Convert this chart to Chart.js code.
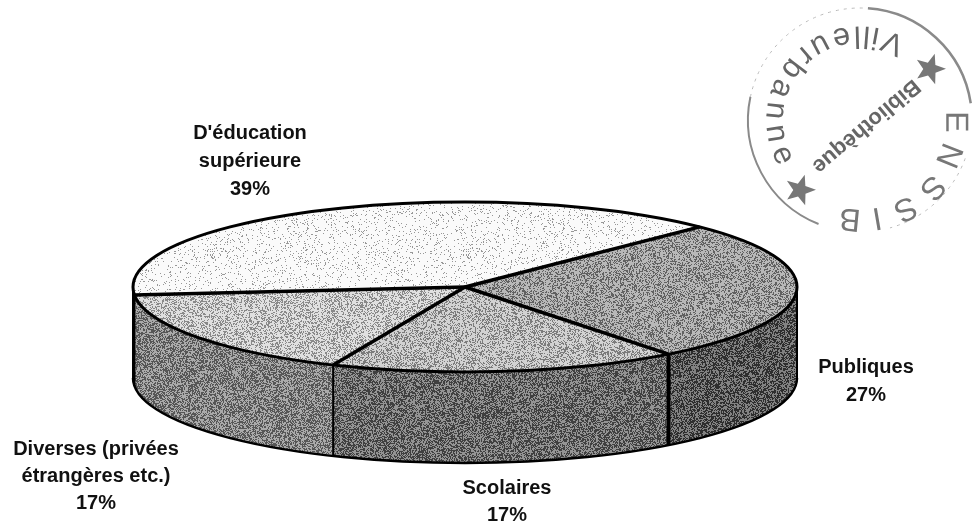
<!DOCTYPE html>
<html>
<head>
<meta charset="utf-8">
<style>
  html, body { margin: 0; padding: 0; background: #fff; }
  #wrap { width: 974px; height: 522px; }
</style>
<script src="https://cdn.jsdelivr.net/npm/chart.js@4/dist/chart.umd.min.js"></script>
</head>
<body>
<div id="wrap"><canvas id="pie" width="974" height="522"></canvas></div>
<script>
const categories = ['Publiques', 'Scolaires', 'Diverses (privées étrangères etc.)', "D'éducation supérieure"];
const shares = [27, 17, 17, 39];
const topGrays = [152, 178, 192, 242];
const wallGrays = [88, 106, 128, 128];
const labelLines = [
  ['Publiques', '27%'],
  ['Scolaires', '17%'],
  ['Diverses (privées', 'étrangères etc.)', '17%'],
  ["D'éducation", 'supérieure', '39%'],
];

// where the pie sits on the page
const CX = 465, CY = 287, RX = 332, RY = 85, DEPTH = 91;
const labelBox = [[866, 367, 28], [507, 488, 27], [96, 449, 27], [250, 133, 28]];

// deterministic two level speckle so the fills look like the scanned halftone
function grain(gray, up, down) {
  const size = 256;
  const c = document.createElement('canvas');
  c.width = c.height = size;
  const g = c.getContext('2d');
  const img = g.createImageData(size, size);
  const hi = Math.min(250, gray + up), lo = Math.max(0, gray - down);
  const pDark = (hi - gray) / (hi - lo);
  let s = 1234567 + gray * 97;
  for (let i = 0; i < size * size; i++) {
    s = (Math.imul(s, 1664525) + 1013904223) >>> 0;
    const n = (s >>> 8) / 16777216;
    const v = n < pDark ? lo : hi;
    img.data[i * 4] = img.data[i * 4 + 1] = img.data[i * 4 + 2] = v;
    img.data[i * 4 + 3] = 255;
  }
  g.putImageData(img, 0, 0);
  return c;
}

function patternFor(ctx, gray, up, down) {
  return ctx.createPattern(grain(gray, up, down), 'repeat');
}

const ctx = document.getElementById('pie').getContext('2d');
const topFills = topGrays.map(g => patternFor(ctx, g, 32, g > 230 ? 90 : 55));
const wallFills = wallGrays.map(g => patternFor(ctx, g, 42, 42));

function edge(a) {
  return [CX + RX * Math.cos(a), CY + RY * Math.sin(a)];
}

const extrudePie = {
  id: 'extrudePie',
  beforeDatasetsDraw(chart) {
    const c = chart.ctx;
    const arcs = chart.getDatasetMeta(0).data;
    c.imageSmoothingEnabled = false;
    // side wall of each slice, only the front half shows
    arcs.forEach((arc, i) => {
      const a = Math.max(arc.startAngle, 0), b = Math.min(arc.endAngle, Math.PI);
      if (b <= a) return;
      c.beginPath();
      c.ellipse(CX, CY, RX, RY, 0, a, b);
      c.ellipse(CX, CY + DEPTH, RX, RY, 0, b, a, true);
      c.closePath();
      c.fillStyle = wallFills[i];
      c.fill();
    });
    c.strokeStyle = '#000';
    c.lineWidth = 2.5;
    c.beginPath();
    c.ellipse(CX, CY + DEPTH, RX, RY, 0, 0, Math.PI);
    c.stroke();
    c.lineWidth = 2;
    [0, Math.PI].forEach(a => {
      const p = edge(a);
      c.beginPath();
      c.moveTo(p[0], p[1]);
      c.lineTo(p[0], p[1] + DEPTH);
      c.stroke();
    });
    arcs.forEach((arc, i) => {
      const a = arc.endAngle;
      if (a <= 0 || a >= Math.PI) return;
      const p = edge(a);
      c.lineWidth = i === 0 ? 4 : 2;
      c.beginPath();
      c.moveTo(p[0], p[1]);
      c.lineTo(p[0], p[1] + DEPTH);
      c.stroke();
    });
    // squash the round pie of the library into the top ellipse
    const first = arcs[0];
    const r = first.outerRadius;
    const sx = RX / r, sy = RY / r;
    topFills.forEach(p => p.setTransform(new DOMMatrix().scale(1 / sx, 1 / sy)));
    c.save();
    c.translate(CX, CY);
    c.scale(sx, sy);
    c.translate(-first.x, -first.y);
  },
  afterDatasetsDraw(chart) {
    const c = chart.ctx;
    c.restore();
    const arcs = chart.getDatasetMeta(0).data;
    c.strokeStyle = '#000';
    c.lineWidth = 3;
    c.beginPath();
    c.ellipse(CX, CY, RX, RY, 0, 0, Math.PI * 2);
    c.stroke();
    c.lineWidth = 3.5;
    arcs.forEach(arc => {
      const p = edge(arc.endAngle);
      c.beginPath();
      c.moveTo(CX, CY);
      c.lineTo(p[0], p[1]);
      c.stroke();
    });
  },
  afterDraw(chart) {
    const c = chart.ctx;
    c.save();
    c.fillStyle = '#111';
    c.font = 'bold 20px "Liberation Sans", Arial, sans-serif';
    c.textAlign = 'center';
    c.textBaseline = 'middle';
    labelLines.forEach((lines, i) => {
      const [x, y, lead] = labelBox[i];
      lines.forEach((t, j) => c.fillText(t, x, y + j * lead));
    });
    c.restore();
    drawStamp(c);
  },
};

// library stamp in the corner, scanned with the page
function drawStar(c, x, y, r) {
  c.beginPath();
  for (let i = 0; i < 10; i++) {
    const a = -Math.PI / 2 + 0.3 + i * Math.PI / 5;
    const d = i % 2 ? r * 0.42 : r;
    c.lineTo(x + d * Math.cos(a), y + d * Math.sin(a));
  }
  c.closePath();
  c.fillStyle = '#777';
  c.fill();
}

function letter(c, ch, x, y, rot, font) {
  c.save();
  c.translate(x, y);
  c.rotate(rot);
  c.font = font;
  c.fillText(ch, 0, 0);
  c.restore();
}

function drawStamp(c) {
  c.save();
  c.strokeStyle = '#8a8a8a';
  c.fillStyle = '#666';
  c.textAlign = 'center';
  c.textBaseline = 'middle';
  const sx = 860, sy = 120, sr = 112;
  // ring: solid where the stamp inked well, broken where it did not
  c.lineWidth = 2.5;
  c.beginPath();
  c.arc(sx, sy, sr, -1.5, -0.15);
  c.stroke();
  c.lineWidth = 2;
  c.beginPath();
  c.arc(sx, sy, sr, 1.95, 3.35);
  c.stroke();
  c.lineWidth = 1;
  c.strokeStyle = '#bbb';
  c.setLineDash([3, 5]);
  c.beginPath();
  c.arc(sx, sy, sr, 3.35, 4.78);
  c.stroke();
  c.beginPath();
  c.arc(sx, sy, sr, 0.35, 1.3);
  c.stroke();
  c.setLineDash([]);

  // Villeurbanne runs counter clockwise with its tops toward the centre
  const word = 'Villeurbanne';
  const f1 = '31px "Liberation Sans", Arial, sans-serif';
  c.font = f1;
  const total = c.measureText(word).width;
  const startA = -1.17, spanA = 2.39;
  let run = 0;
  const firstW = c.measureText(word[0]).width, lastW = c.measureText(word[word.length - 1]).width;
  for (let i = 0; i < word.length; i++) {
    const w = c.measureText(word[i]).width;
    const t = (run + w / 2 - firstW / 2) / (total - firstW / 2 - lastW / 2);
    const a = startA - t * spanA;
    letter(c, word[i], sx + 85 * Math.cos(a), sy + 85 * Math.sin(a), a - Math.PI / 2, f1);
    run += w;
  }
  c.save();
  c.translate(866, 126);
  c.rotate(Math.PI - 0.7);
  c.font = 'bold 22px "Liberation Sans", Arial, sans-serif';
  c.fillText('Bibliothèque', 0, 0);
  c.restore();

  drawStar(c, 930, 69, 16);
  drawStar(c, 800, 190, 16);

  c.fillStyle = '#777';
  const f2 = '32px "Liberation Sans", Arial, sans-serif';
  const outer = [['E', 955, 122, 1.57], ['N', 948, 155, 1.95], ['S', 932, 187, 2.32], ['S', 905, 208, 2.67], ['I', 877, 217, 2.97], ['B', 850, 218, 3.24]];
  outer.forEach(o => letter(c, o[0], o[1], o[2], o[3], f2));
  c.restore();
}

new Chart(ctx, {
  type: 'pie',
  data: {
    labels: categories,
    datasets: [{
      data: shares,
      backgroundColor: topFills,
      borderWidth: 0,
    }],
  },
  options: {
    responsive: false,
    animation: false,
    rotation: 45,
    events: [],
    layout: { padding: 40 },
    plugins: {
      legend: { display: false },
      tooltip: { enabled: false },
    },
  },
  plugins: [extrudePie],
});
</script>
</body>
</html>
